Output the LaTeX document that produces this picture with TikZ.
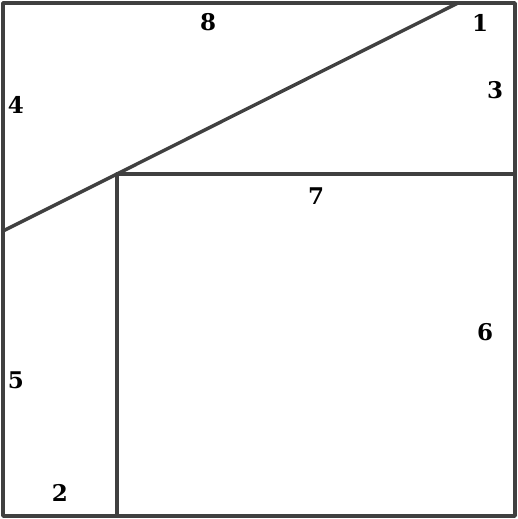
\documentclass[tikz,border=0pt]{standalone}
\usepackage{fontspec}
\setmainfont{DejaVu Serif}
\usepackage{tikz}

\begin{document}
\begin{tikzpicture}[x=1pt, y=-1pt,
    edge/.style={draw=black!75, line width=3.4pt, line cap=round, line join=round},
    piece/.style={font=\bfseries\fontsize{23}{27}\selectfont, text=black, inner sep=0pt}]
  \useasboundingbox (0,0) rectangle (518,519);
  %% *** Corners ***
  \coordinate (tl) at (3,3);
  \coordinate (tr) at (515,3);
  \coordinate (br) at (515,516);
  \coordinate (bl) at (3,516);
  \coordinate (cut top) at (458,3);
  \coordinate (cut left) at (3,231);
  \coordinate (inner) at (117,174);
  \coordinate (inner right) at (515,174);
  \coordinate (inner bottom) at (117,516);
  %% *** Lines ***
  \draw [edge] (tl) -- (tr) -- (br) -- (bl) -- cycle;
  \draw [edge] (cut left) -- (inner) -- (cut top);
  \draw [edge] (inner) -- (inner right);
  \draw [edge] (inner) -- (inner bottom);
  %% *** Labels ***
  \node [piece] (p1) at (480,23) {1};
  \node [piece] (p2) at (60,493) {2};
  \node [piece] (p3) at (495,90) {3};
  \node [piece] (p4) at (16,105) {4};
  \node [piece] (p5) at (16,380) {5};
  \node [piece] (p6) at (485,332) {6};
  \node [piece] (p7) at (316,196) {7};
  \node [piece] (p8) at (208,22) {8};
\end{tikzpicture}
\end{document}
